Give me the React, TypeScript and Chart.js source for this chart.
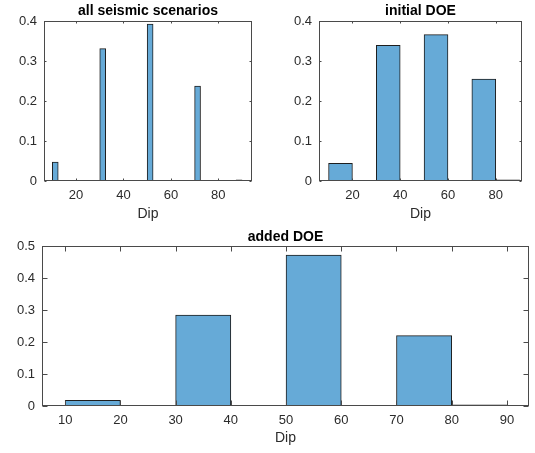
import React, { useEffect, useRef } from "react";
import { Chart, registerables } from "chart.js";

Chart.register(...registerables);

// ---- data ----
const dipTicksTop = [20, 40, 60, 80];
const dipTicksBottom = [10, 20, 30, 40, 50, 60, 70, 80, 90];
const probTicksTop = [0, 0.1, 0.2, 0.3, 0.4];
const probTicksBottom = [0, 0.1, 0.2, 0.3, 0.4, 0.5];

// all seismic scenarios: 32 bins of width 2.5 starting at 10
const allBinStart = 10;
const allBinWidth = 2.5;
const allScenarioValues = [
  0.047, 0, 0, 0, 0, 0, 0, 0,
  0.331, 0, 0, 0, 0, 0, 0, 0,
  0.392, 0, 0, 0, 0, 0, 0, 0,
  0.237, 0, 0, 0, 0, 0, 0, 0.003,
];

// DOE histograms: 8 bins of width 10 starting at 10
const doeBinStart = 10;
const doeBinWidth = 10;
const initialDoeValues = [0.044, 0, 0.339, 0, 0.366, 0, 0.255, 0.003];
const addedDoeValues = [0.018, 0, 0.284, 0, 0.472, 0, 0.22, 0.004];

const FONT = "'Liberation Sans', Arial, Helvetica, sans-serif";
const TEXT = "#2b2b2b";
const AXIS = "#4a4a4a";
const BAR = "#66aad7";
const EDGE = "#1e1e1e";

type Area = { left: number; top: number; right: number; bottom: number };
type Spec = {
  title: string;
  values: number[];
  start: number;
  width: number;
  xMin: number;
  xMax: number;
  yMax: number;
  xTicks: number[];
  yTicks: number[];
  W: number;
  H: number;
  area: Area;
  titlePadTop: number;
  xTitlePadBottom: number;
  tickLen: number;
};

function makeConfig(s: Spec): any {
  const data = s.values.map((v, i) => ({ x: s.start + (i + 0.5) * s.width, y: v }));
  const boxPlugin = {
    id: "matlabBox",
    afterDatasetsDraw(chart: any) {
      const { ctx, chartArea: a, scales } = chart;
      const x = scales.x;
      const y = scales.y;
      const L = s.tickLen;
      const left = Math.round(a.left) + 0.5;
      const right = Math.round(a.right) - 0.5;
      const top = Math.round(a.top) + 0.5;
      const bottom = Math.round(a.bottom) - 0.5;
      ctx.save();
      ctx.strokeStyle = AXIS;
      ctx.lineWidth = 1;
      ctx.beginPath();
      for (const t of x.ticks) {
        const px = Math.round(x.getPixelForValue(t.value)) + 0.5;
        ctx.moveTo(px, bottom);
        ctx.lineTo(px, bottom - L);
        ctx.moveTo(px, top);
        ctx.lineTo(px, top + L);
      }
      for (const t of y.ticks) {
        const py = Math.round(y.getPixelForValue(t.value)) + 0.5;
        ctx.moveTo(left, py);
        ctx.lineTo(left + L, py);
        ctx.moveTo(right, py);
        ctx.lineTo(right - L, py);
      }
      ctx.stroke();
      ctx.strokeRect(left, top, right - left, bottom - top);
      ctx.restore();
    },
  };
  return {
    type: "bar",
    data: {
      datasets: [
        {
          data,
          backgroundColor: BAR,
          borderColor: EDGE,
          borderWidth: 1,
          borderSkipped: false,
          barPercentage: 1,
          categoryPercentage: 1,
        },
      ],
    },
    options: {
      animation: false,
      responsive: false,
      devicePixelRatio: 1,
      layout: { padding: { left: 0, right: s.W - s.area.right, top: 0, bottom: 0 } },
      plugins: {
        legend: { display: false },
        tooltip: { enabled: false },
        title: {
          display: true,
          text: s.title,
          fullSize: false,
          color: "#000",
          font: { family: FONT, size: 14, weight: "bold", lineHeight: 1.2 },
          padding: { top: s.titlePadTop, bottom: Math.max(0, s.area.top - s.titlePadTop - 16.8) },
        },
      },
      scales: {
        x: {
          type: "linear",
          min: s.xMin,
          max: s.xMax,
          offset: false,
          afterBuildTicks: (sc: any) => {
            sc.ticks = s.xTicks.map((v) => ({ value: v }));
          },
          afterFit: (sc: any) => {
            sc.height = s.H - s.area.bottom;
          },
          grid: { display: false, drawTicks: false },
          border: { display: false },
          ticks: {
            padding: 7,
            color: TEXT,
            autoSkip: false,
            maxRotation: 0,
            font: { family: FONT, size: 13 },
            callback: (v: any) => String(v),
          },
          title: {
            display: true,
            text: "Dip",
            color: TEXT,
            font: { family: FONT, size: 14, lineHeight: 1.2 },
            padding: { top: 0, bottom: s.xTitlePadBottom },
          },
        },
        y: {
          type: "linear",
          min: 0,
          max: s.yMax,
          afterBuildTicks: (sc: any) => {
            sc.ticks = s.yTicks.map((v) => ({ value: v }));
          },
          afterFit: (sc: any) => {
            sc.width = s.area.left;
          },
          grid: { display: false, drawTicks: false },
          border: { display: false },
          ticks: {
            padding: 7,
            color: TEXT,
            font: { family: FONT, size: 13 },
            callback: (v: any) => String(v),
          },
        },
      },
    },
    plugins: [boxPlugin],
  };
}

function Hist({ spec, left, top }: { spec: Spec; left: number; top: number }) {
  const ref = useRef<HTMLCanvasElement | null>(null);
  useEffect(() => {
    if (!ref.current) return;
    const chart = new Chart(ref.current, makeConfig(spec));
    return () => chart.destroy();
  }, [spec]);
  return (
    <div style={{ position: "absolute", left, top, width: spec.W, height: spec.H }}>
      <canvas ref={ref} width={spec.W} height={spec.H} style={{ width: spec.W, height: spec.H, display: "block" }} />
    </div>
  );
}

const specAll: Spec = {
  title: "all seismic scenarios",
  values: allScenarioValues,
  start: allBinStart,
  width: allBinWidth,
  xMin: 6.5,
  xMax: 94.2,
  yMax: 0.4,
  xTicks: dipTicksTop,
  yTicks: probTicksTop,
  W: 267,
  H: 225,
  area: { left: 44, top: 21, right: 252, bottom: 181 },
  titlePadTop: 3,
  xTitlePadBottom: 2.6,
  tickLen: 2,
};

const specInitial: Spec = {
  title: "initial DOE",
  values: initialDoeValues,
  start: doeBinStart,
  width: doeBinWidth,
  xMin: 6,
  xMax: 91,
  yMax: 0.4,
  xTicks: dipTicksTop,
  yTicks: probTicksTop,
  W: 268,
  H: 225,
  area: { left: 52, top: 21, right: 255, bottom: 181 },
  titlePadTop: 3,
  xTitlePadBottom: 2.6,
  tickLen: 2,
};

const specAdded: Spec = {
  title: "added DOE",
  values: addedDoeValues,
  start: doeBinStart,
  width: doeBinWidth,
  xMin: 5.8,
  xMax: 94,
  yMax: 0.5,
  xTicks: dipTicksBottom,
  yTicks: probTicksBottom,
  W: 535,
  H: 228,
  area: { left: 42, top: 21, right: 529, bottom: 181 },
  titlePadTop: 4,
  xTitlePadBottom: 6.9,
  tickLen: 5,
};

export default function App() {
  return (
    <div style={{ position: "fixed", left: 0, top: 0, width: 535, height: 453, background: "#fff", overflow: "hidden" }}>
      <Hist spec={specAll} left={0} top={0} />
      <Hist spec={specInitial} left={267} top={0} />
      <Hist spec={specAdded} left={0} top={225} />
    </div>
  );
}
